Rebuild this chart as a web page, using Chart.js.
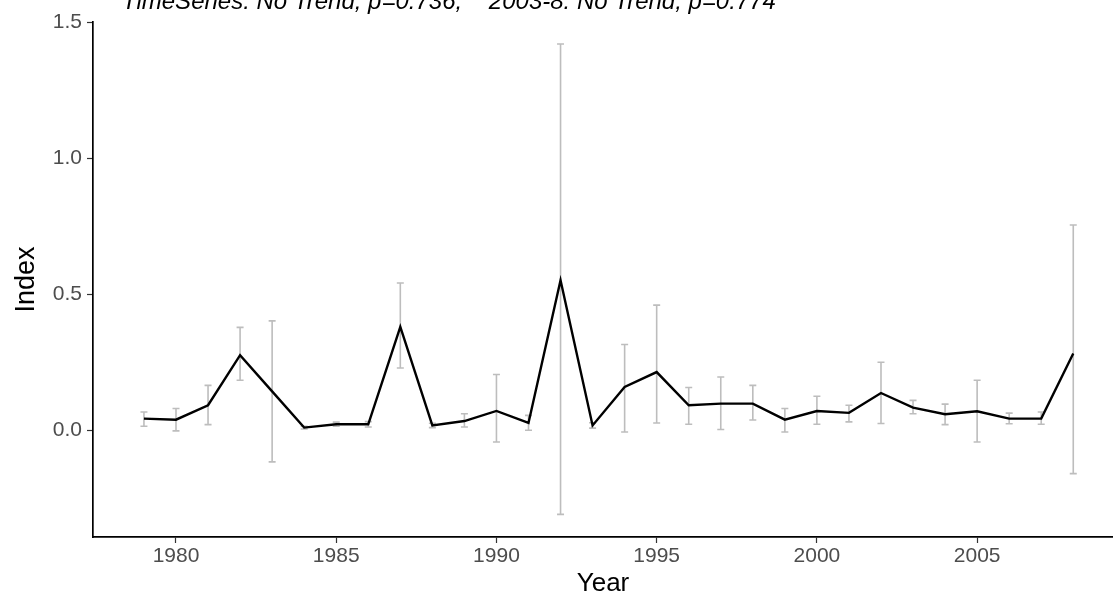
<!DOCTYPE html>
<html>
<head>
<meta charset="utf-8">
<script src="https://cdn.jsdelivr.net/npm/chart.js@4"></script>
<style>
  html, body { margin: 0; padding: 0; background: #fff; }
  #wrap { width: 1113px; height: 602px; }
</style>
</head>
<body>
<div id="wrap"><canvas id="indexChart"></canvas></div>
<script>
const years = [1979, 1980, 1981, 1982, 1983, 1984, 1985, 1986, 1987, 1988,
               1989, 1990, 1991, 1992, 1993, 1994, 1995, 1996, 1997, 1998,
               1999, 2000, 2001, 2002, 2003, 2004, 2005, 2006, 2007, 2008];
const index = [0.043, 0.039, 0.092, 0.276, 0.143, 0.010, 0.022, 0.022, 0.380, 0.018,
               0.034, 0.071, 0.027, 0.551, 0.018, 0.159, 0.214, 0.092, 0.098, 0.098,
               0.039, 0.071, 0.064, 0.137, 0.083, 0.059, 0.070, 0.043, 0.043, 0.282];
const lower = [0.015, -0.002, 0.021, 0.184, -0.116, 0.005, 0.015, 0.012, 0.229, 0.010,
               0.012, -0.043, 0.000, -0.309, 0.008, -0.006, 0.027, 0.022, 0.003, 0.038,
               -0.006, 0.022, 0.031, 0.025, 0.061, 0.021, -0.043, 0.024, 0.022, -0.159];
const upper = [0.067, 0.080, 0.165, 0.378, 0.402, 0.015, 0.030, 0.032, 0.541, 0.026,
               0.061, 0.205, 0.055, 1.419, 0.028, 0.315, 0.460, 0.157, 0.196, 0.165,
               0.080, 0.125, 0.092, 0.250, 0.110, 0.096, 0.184, 0.063, 0.067, 0.754];
const xTicks = [1980, 1985, 1990, 1995, 2000, 2005];
const yTicks = [0, 0.5, 1.0, 1.5];
const titleText = "TimeSeries: No Trend, p=0.736,    2003-8: No Trend, p=0.774";

const fontFamily = "'Liberation Sans', Arial, sans-serif";

// error bars drawn under the line, positioned with the chart's scales
const errorBars = {
    id: "errorBars",
    beforeDatasetsDraw(chart) {
        const ctx = chart.ctx;
        const x = chart.scales.x, y = chart.scales.y;
        ctx.save();
        ctx.strokeStyle = "#bdbdbd";
        ctx.lineWidth = 1.6;
        years.forEach((yr, i) => {
            const px = x.getPixelForValue(yr);
            const top = y.getPixelForValue(upper[i]);
            const bot = y.getPixelForValue(lower[i]);
            ctx.beginPath();
            ctx.moveTo(px, top); ctx.lineTo(px, bot);
            ctx.moveTo(px - 3.5, top); ctx.lineTo(px + 3.5, top);
            ctx.moveTo(px - 3.5, bot); ctx.lineTo(px + 3.5, bot);
            ctx.stroke();
        });
        ctx.restore();
    }
};

// title sits half outside the top of the picture
const cutTitle = {
    id: "cutTitle",
    afterDraw(chart) {
        const ctx = chart.ctx;
        ctx.save();
        ctx.font = "italic 24px " + fontFamily;
        ctx.fillStyle = "#000";
        ctx.textBaseline = "alphabetic";
        ctx.fillText(titleText, 122, 9);
        ctx.restore();
    }
};

new Chart(document.getElementById("indexChart").getContext("2d"), {
    type: "line",
    data: {
        datasets: [{
            label: "Index",
            data: years.map((yr, i) => ({ x: yr, y: index[i] })),
            borderColor: "#000",
            borderWidth: 2.4,
            pointRadius: 0,
            tension: 0,
            fill: false
        }]
    },
    options: {
        responsive: true,
        maintainAspectRatio: false,
        animation: false,
        layout: { padding: { top: 22, right: 0, left: 0, bottom: 0 } },
        plugins: {
            legend: { display: false },
            tooltip: { enabled: false }
        },
        scales: {
            x: {
                type: "linear",
                min: 1977.41,
                max: 2009.24,
                afterBuildTicks: s => { s.ticks = xTicks.map(v => ({ value: v })); },
                afterFit: s => { s.height = 65; },
                grid: { drawOnChartArea: false, color: "#333", tickLength: 6, tickWidth: 1.2 },
                border: { color: "#000", width: 1.7 },
                ticks: {
                    color: "#4d4d4d",
                    padding: 1,
                    maxRotation: 0,
                    font: { family: fontFamily, size: 21 },
                    callback: v => String(v)
                },
                title: {
                    display: true,
                    text: "Year",
                    color: "#000",
                    padding: { top: 0, bottom: 3 },
                    font: { family: fontFamily, size: 26 }
                }
            },
            y: {
                min: -0.392,
                max: 1.5,
                afterBuildTicks: s => { s.ticks = yTicks.map(v => ({ value: v })); },
                afterFit: s => { s.width = 93; },
                grid: { drawOnChartArea: false, color: "#333", tickLength: 6, tickWidth: 1.2 },
                border: { color: "#000", width: 1.7 },
                ticks: {
                    color: "#4d4d4d",
                    padding: 5,
                    font: { family: fontFamily, size: 21 },
                    callback: v => v.toFixed(1)
                },
                title: {
                    display: true,
                    text: "Index",
                    color: "#000",
                    padding: { top: 10, bottom: 0 },
                    font: { family: fontFamily, size: 27 }
                }
            }
        }
    },
    plugins: [errorBars, cutTitle]
});
</script>
</body>
</html>
